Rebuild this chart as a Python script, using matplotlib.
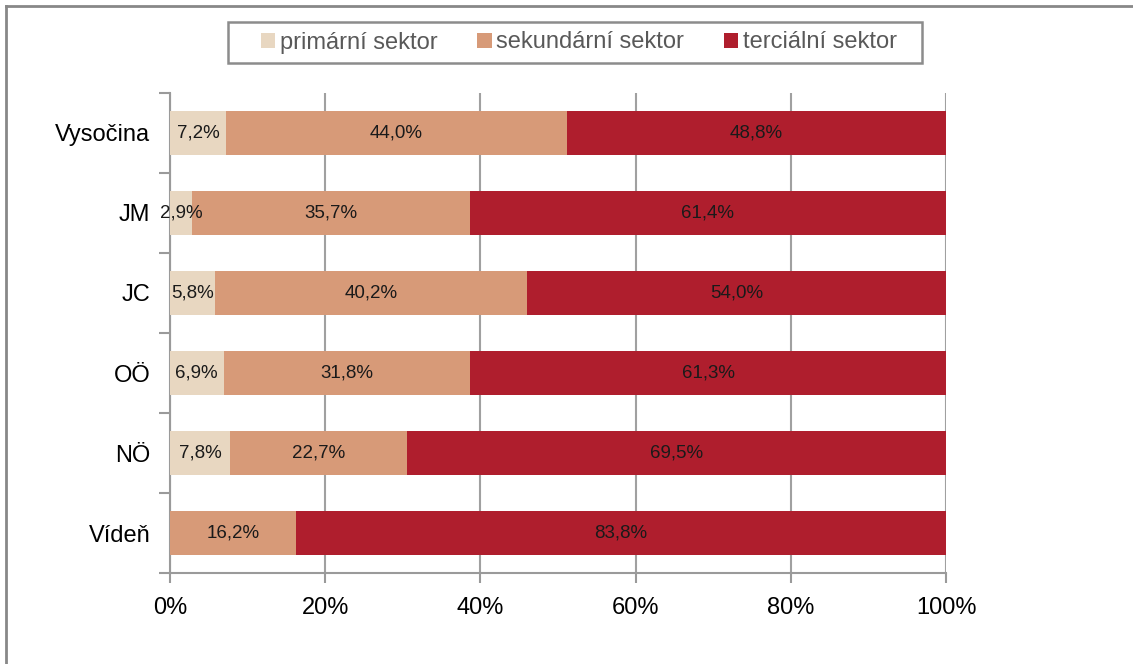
import numpy as np
import matplotlib.pyplot as plt
from matplotlib.lines import Line2D
from matplotlib.patches import Rectangle
from matplotlib.ticker import FixedLocator

plt.rcParams['font.family'] = ['Liberation Sans', 'DejaVu Sans']

regions = ["Vysočina", "JM", "JC", "OÖ", "NÖ", "Vídeň"]
primary = [7.2, 2.9, 5.8, 6.9, 7.8, 0.0]
secondary = [44.0, 35.7, 40.2, 31.8, 22.7, 16.2]
tertiary = [48.8, 61.4, 54.0, 61.3, 69.5, 83.8]

series = [
    ("primární sektor", primary, "#E8D7C1"),
    ("sekundární sektor", secondary, "#D79A78"),
    ("terciální sektor", tertiary, "#AF1E2D"),
]

W, H = 1133, 664
fig = plt.figure(figsize=(W / 100, H / 100), dpi=100)
ax = fig.add_axes([0.150, 0.137, 0.685, 0.723])

y = np.arange(len(regions))[::-1]
left = np.zeros(len(regions))
for name, vals, col in series:
    vals = np.array(vals)
    bars = ax.barh(y, vals, left=left, height=0.55, color=col, label=name, zorder=3)
    for b, v in zip(bars, vals):
        if v > 0:
            ax.text(b.get_x() + b.get_width() / 2, b.get_y() + b.get_height() / 2,
                    f"{v:.1f}%".replace(".", ","), ha="center", va="center",
                    fontsize=13.5, color="#1a1a1a", zorder=4)
    left += vals

ax.set_xlim(0, 100)
ax.set_ylim(-0.5, len(regions) - 0.5)
ax.set_xticks(np.arange(0, 101, 20))
ax.set_xticklabels([f"{v}%" for v in range(0, 101, 20)], fontsize=17)
ax.set_yticks(y)
ax.set_yticklabels(regions, fontsize=17)
ax.yaxis.set_minor_locator(FixedLocator(np.arange(-0.5, len(regions), 1.0)))
ax.tick_params(axis="y", which="major", length=0, pad=14)
ax.tick_params(axis="y", which="minor", length=8, color="#9a9a9a", width=1.5)
ax.tick_params(axis="x", length=7, color="#9a9a9a", width=1.5, pad=10)
ax.xaxis.grid(True, color="#a0a0a0", linewidth=1.5, zorder=0)
for s in ["top", "right"]:
    ax.spines[s].set_visible(False)
for s in ["left", "bottom"]:
    ax.spines[s].set_color("#9a9a9a")
    ax.spines[s].set_linewidth(1.5)

leg = fig.legend(loc="center", bbox_to_anchor=(579 / W, 1 - 42.5 / H), ncol=3, fontsize=17,
                 frameon=False, handlelength=0.6, handleheight=0.6,
                 handletextpad=0.2, columnspacing=1.7, borderpad=0.3)
for t in leg.get_texts():
    t.set_color("#595959")

# legend box
fig.add_artist(Rectangle((228 / W, 1 - 63 / H), (922 - 228) / W, 41 / H,
                         transform=fig.transFigure, fill=False,
                         edgecolor="#8c8c8c", linewidth=1.8))

# outer frame (only top and left edges visible, as in the cropped source)
fig.add_artist(Line2D([6 / W, 1], [1 - 6 / H, 1 - 6 / H], transform=fig.transFigure,
                      color="#888888", linewidth=2))
fig.add_artist(Line2D([6 / W, 6 / W], [0, 1 - 6 / H], transform=fig.transFigure,
                      color="#888888", linewidth=2))

fig.savefig("out.png", dpi=100)
plt.close()
